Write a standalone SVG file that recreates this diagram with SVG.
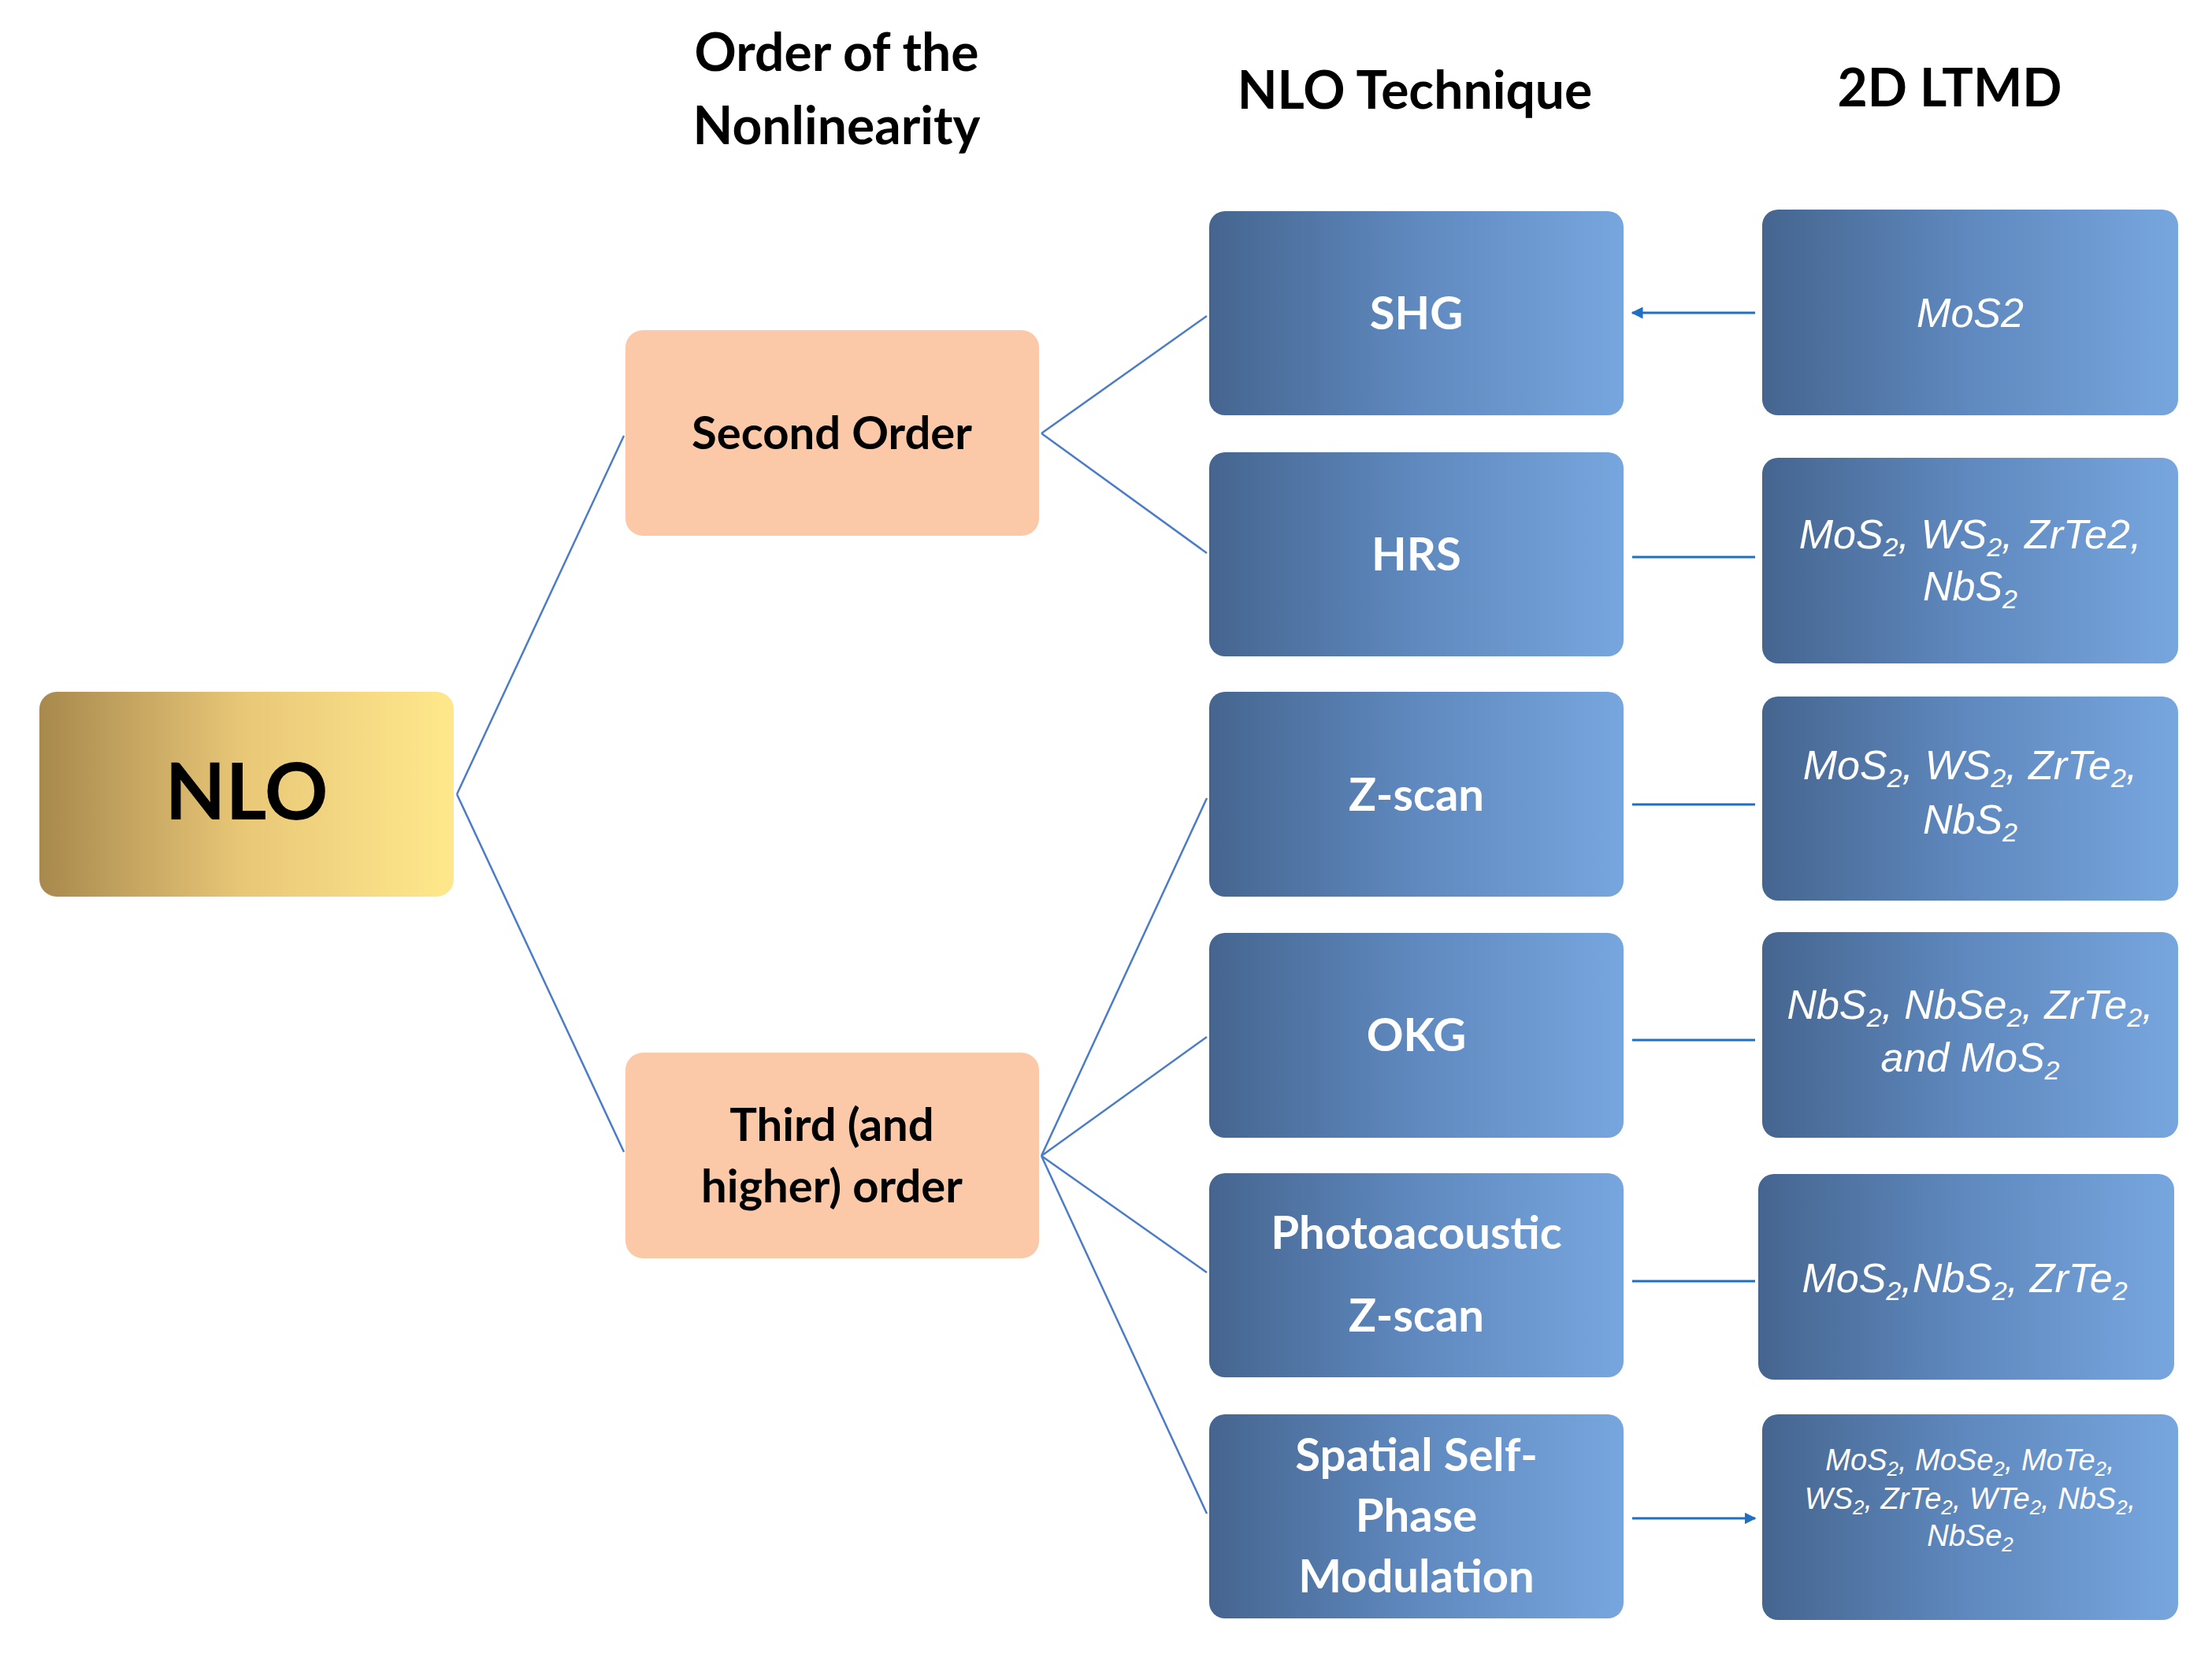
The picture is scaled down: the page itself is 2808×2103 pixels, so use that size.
<svg xmlns="http://www.w3.org/2000/svg" width="2808" height="2103" viewBox="0 0 2808 2103">
<defs>
<linearGradient id="gold" x1="0" x2="1" y1="0" y2="0"><stop offset="0" stop-color="#a8894d"/><stop offset="0.5" stop-color="#e9c878"/><stop offset="1" stop-color="#ffe88c"/></linearGradient>
<linearGradient id="blue" x1="0" x2="1" y1="0" y2="0"><stop offset="0" stop-color="#45658f"/><stop offset="0.5" stop-color="#5f89bf"/><stop offset="1" stop-color="#77a6de"/></linearGradient>
<marker id="ah" viewBox="0 0 10 10" refX="9" refY="5" markerWidth="5" markerHeight="5" orient="auto-start-reverse"><path d="M0,0L10,5L0,10z" fill="#1f6fc4"/></marker>
</defs>
<style>
.h{font-family:Lato,"Open Sans",sans-serif;font-weight:bold;font-size:66px;fill:#000;text-anchor:middle}
.o{font-family:Lato,"Open Sans",sans-serif;font-weight:bold;font-size:58px;fill:#000;text-anchor:middle}
.t{font-family:Lato,"Open Sans",sans-serif;font-weight:bold;font-size:58px;fill:#fff;text-anchor:middle}
.m{font-family:"Liberation Sans",Arial,sans-serif;font-style:italic;font-size:52px;fill:#fff;text-anchor:middle}
.s{font-family:"Liberation Sans",Arial,sans-serif;font-style:italic;font-size:38px;fill:#fff;text-anchor:middle}
.c{stroke:#4a7cc8;stroke-width:2.5;fill:none}
.a{stroke:#1f6fc4;stroke-width:3;fill:none;marker-start:url(#ah);marker-end:url(#ah)}
</style>
<rect width="2808" height="2103" fill="#fff"/>
<g id="headers">
<text class="h" x="1062" y="90">Order of the</text>
<text class="h" x="1062" y="183">Nonlinearity</text>
<text class="h" x="1796" y="138">NLO Technique</text>
<text class="h" x="2475" y="135">2D LTMD</text>
</g>
<g id="connectors">
<path class="c" d="M580,1008L792,553M580,1008L792,1462M1322,550L1532,401M1322,550L1532,702M1322,1467L1532,1013M1322,1467L1532,1316M1322,1467L1532,1615M1322,1467L1532,1921"/>
<path class="a" d="M2072,397H2228M2072,707H2228M2072,1021H2228M2072,1320H2228M2072,1626H2228M2072,1927H2228"/>
</g>
<g id="nlo"><rect x="50" y="878" width="526" height="260" rx="22" fill="url(#gold)"/><text x="313" y="1040" font-family="Lato,'Open Sans',sans-serif" font-weight="bold" font-size="100" text-anchor="middle">NLO</text></g>
<g id="second"><rect x="794" y="419" width="525" height="261" rx="22" fill="#fcc9a8"/><text class="o" x="1056" y="570">Second Order</text></g>
<g id="third"><rect x="794" y="1336" width="525" height="261" rx="22" fill="#fcc9a8"/><text class="o" x="1056" y="1448">Third (and</text><text class="o" x="1056" y="1526">higher) order</text></g>
<g id="shg"><rect x="1535" y="268" width="526" height="259" rx="20" fill="url(#blue)"/><text class="t" x="1798" y="418">SHG</text></g>
<g id="hrs"><rect x="1535" y="574" width="526" height="259" rx="20" fill="url(#blue)"/><text class="t" x="1798" y="724">HRS</text></g>
<g id="zscan"><rect x="1535" y="878" width="526" height="260" rx="20" fill="url(#blue)"/><text class="t" x="1798" y="1029">Z-scan</text></g>
<g id="okg"><rect x="1535" y="1184" width="526" height="260" rx="20" fill="url(#blue)"/><text class="t" x="1798" y="1334">OKG</text></g>
<g id="pa"><rect x="1535" y="1489" width="526" height="259" rx="20" fill="url(#blue)"/><text class="t" x="1798" y="1585">Photoacoustic</text><text class="t" x="1798" y="1690">Z-scan</text></g>
<g id="sspm"><rect x="1535" y="1795" width="526" height="259" rx="20" fill="url(#blue)"/><text class="t" x="1798" y="1867">Spatial Self-</text><text class="t" x="1798" y="1944">Phase</text><text class="t" x="1798" y="2021">Modulation</text></g>
<g id="l1"><rect x="2237" y="266" width="528" height="261" rx="20" fill="url(#blue)"/><text class="m" x="2501" y="415">MoS2</text></g>
<g id="l2"><rect x="2237" y="581" width="528" height="261" rx="20" fill="url(#blue)"/><text class="m" x="2501" y="696">MoS<tspan font-size="34" dy="10">2</tspan><tspan dy="-10">, WS</tspan><tspan font-size="34" dy="10">2</tspan><tspan dy="-10">, ZrTe2,</tspan></text><text class="m" x="2501" y="762">NbS<tspan font-size="34" dy="10">2</tspan></text></g>
<g id="l3"><rect x="2237" y="884" width="528" height="259" rx="20" fill="url(#blue)"/><text class="m" x="2501" y="989">MoS<tspan font-size="34" dy="10">2</tspan><tspan dy="-10">, WS</tspan><tspan font-size="34" dy="10">2</tspan><tspan dy="-10">, ZrTe</tspan><tspan font-size="34" dy="10">2</tspan><tspan dy="-10">,</tspan></text><text class="m" x="2501" y="1058">NbS<tspan font-size="34" dy="10">2</tspan></text></g>
<g id="l4"><rect x="2237" y="1183" width="528" height="261" rx="20" fill="url(#blue)"/><text class="m" x="2501" y="1293">NbS<tspan font-size="34" dy="10">2</tspan><tspan dy="-10">, NbSe</tspan><tspan font-size="34" dy="10">2</tspan><tspan dy="-10">, ZrTe</tspan><tspan font-size="34" dy="10">2</tspan><tspan dy="-10">,</tspan></text><text class="m" x="2501" y="1360">and MoS<tspan font-size="34" dy="10">2</tspan></text></g>
<g id="l5"><rect x="2232" y="1490" width="528" height="261" rx="20" fill="url(#blue)"/><text class="m" x="2494" y="1640">MoS<tspan font-size="34" dy="10">2</tspan><tspan dy="-10">,NbS</tspan><tspan font-size="34" dy="10">2</tspan><tspan dy="-10">, ZrTe</tspan><tspan font-size="34" dy="10">2</tspan></text></g>
<g id="l6"><rect x="2237" y="1795" width="528" height="261" rx="20" fill="url(#blue)"/><text class="s" x="2501" y="1866">MoS<tspan font-size="26" dy="7">2</tspan><tspan dy="-7">, MoSe</tspan><tspan font-size="26" dy="7">2</tspan><tspan dy="-7">, MoTe</tspan><tspan font-size="26" dy="7">2</tspan><tspan dy="-7">,</tspan></text><text class="s" x="2501" y="1915">WS<tspan font-size="26" dy="7">2</tspan><tspan dy="-7">, ZrTe</tspan><tspan font-size="26" dy="7">2</tspan><tspan dy="-7">, WTe</tspan><tspan font-size="26" dy="7">2</tspan><tspan dy="-7">, NbS</tspan><tspan font-size="26" dy="7">2</tspan><tspan dy="-7">,</tspan></text><text class="s" x="2501" y="1962">NbSe<tspan font-size="26" dy="7">2</tspan></text></g>
</svg>
